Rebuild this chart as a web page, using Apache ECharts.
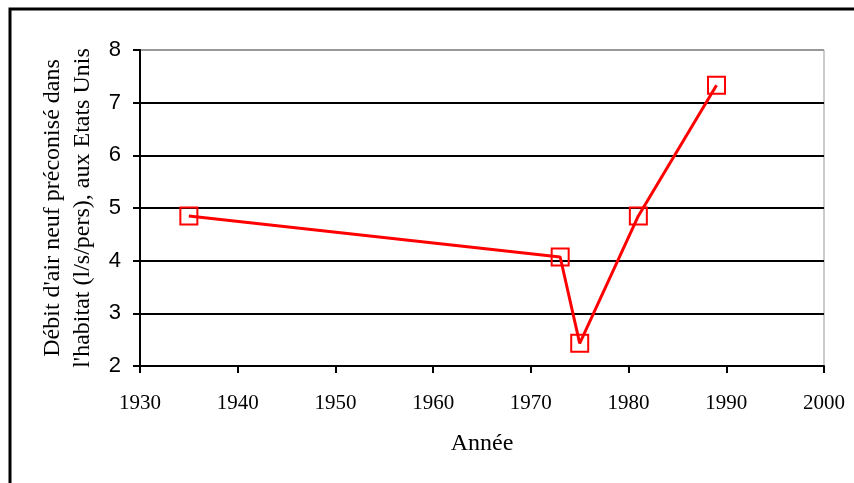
<!DOCTYPE html>
<html>
<head>
<meta charset="utf-8">
<script src="https://cdn.jsdelivr.net/npm/echarts@6/dist/echarts.min.js"></script>
<style>
  html, body { margin: 0; padding: 0; background: #fff; }
  #chart { width: 854px; height: 483px; }
</style>
</head>
<body>
<div id="chart"></div>
<script>
const years = [1935, 1973, 1975, 1981, 1989];
const debit = [4.85, 4.07, 2.43, 4.85, 7.33];
const yTicks = [2, 3, 4, 5, 6, 7, 8];
const xTicks = [1930, 1940, 1950, 1960, 1970, 1980, 1990, 2000];

const chart = echarts.init(document.getElementById("chart"));

chart.setOption({
  animation: false,
  backgroundColor: "#fff",
  graphic: [
    {
      type: "polyline",
      shape: { points: [[10, 483], [10, 9], [854, 9]] },
      style: { stroke: "#000", lineWidth: 3, fill: null },
    },
  ],
  grid: {
    left: 140,
    right: 30,
    top: 50,
    bottom: 117,
    show: true,
    borderColor: "#999",
    borderWidth: 1,
  },
  xAxis: {
    type: "value",
    min: xTicks[0],
    max: xTicks[xTicks.length - 1],
    interval: 10,
    name: "Année",
    nameLocation: "middle",
    nameGap: 66,
    nameTextStyle: { fontFamily: "Liberation Serif", fontSize: 24, color: "#000" },
    axisLine: { lineStyle: { color: "#000", width: 2 } },
    axisTick: { length: 7, lineStyle: { color: "#000", width: 2 } },
    axisLabel: {
      margin: 27,
      fontFamily: "Liberation Serif",
      fontSize: 21,
      color: "#000",
      formatter: (v) => String(v),
    },
    splitLine: { show: false },
  },
  yAxis: {
    type: "value",
    min: yTicks[0],
    max: yTicks[yTicks.length - 1],
    interval: 1,
    name: "Débit d'air neuf préconisé dans\nl'habitat (l/s/pers), aux Etats Unis",
    nameLocation: "middle",
    nameRotate: 90,
    nameGap: 42,
    nameTextStyle: {
      fontFamily: "Liberation Serif",
      fontSize: 24,
      lineHeight: 30,
      color: "#000",
    },
    axisLine: { show: true, lineStyle: { color: "#000", width: 2 } },
    axisTick: { show: true, length: 7, lineStyle: { color: "#000", width: 2 } },
    axisLabel: { margin: 19, fontFamily: "Liberation Sans", fontSize: 22, color: "#000" },
    splitLine: {
      show: true,
      lineStyle: {
        color: ["#000", "#000", "#000", "#000", "#000", "#000", "#999"],
        width: 2,
      },
    },
  },
  series: [
    {
      type: "line",
      data: years.map((y, i) => [y, debit[i]]),
      symbol: "rect",
      symbolSize: 17,
      lineStyle: { color: "#ff0000", width: 3 },
      itemStyle: { color: "rgba(0,0,0,0)", borderColor: "#ff0000", borderWidth: 2 },
    },
  ],
});
</script>
</body>
</html>
